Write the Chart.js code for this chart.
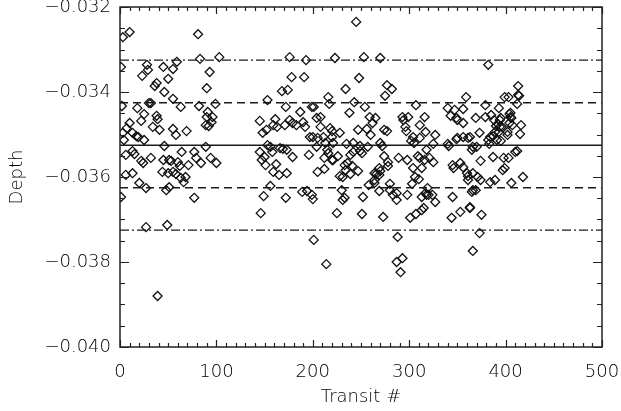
<!DOCTYPE html>
<html>
<head>
<meta charset="utf-8">
<title>Transit depths</title>
<script src="https://cdn.jsdelivr.net/npm/chart.js@4.4.1/dist/chart.umd.min.js"></script>
<style>
  html, body { margin: 0; padding: 0; background: #fff; }
  #wrap { width: 621px; height: 411px; }
</style>
</head>
<body>
<div id="wrap"><canvas id="depthChart" width="621" height="411"></canvas></div>
<script>
// transit number and fitted depth, one entry per transit
var transitNumbers = [
  1, 3, 10, 81, 83, 103, 93, 90, 28, 29,
  23, 45, 55, 59, 50, 38, 36, 46, 55, 30,
  32, 63, 18, 2, 82, 99, 91, 90, 96, 95,
  89, 92, 38, 39, 25, 22, 34, 10, 7, 3,
  41, 55, 58, 69, 13, 17, 19, 25, 4, 46,
  89, 6, 13, 15, 22, 32, 45, 53, 60, 64,
  62, 55, 50, 58, 63, 68, 66, 77, 79, 84,
  94, 100, 44, 6, 13, 20, 27, 48, 51, 1,
  77, 27, 49, 39, 71, 51, 24,
  176, 178, 168, 174, 153, 172, 145, 161, 148, 152,
  159, 163, 171, 176, 179, 183, 153, 156, 166, 169,
  145, 150, 158, 173, 179, 147, 151, 162, 159, 165,
  173, 156, 149, 172, 146, 193, 223, 191, 199, 201,
  187, 190, 192, 197, 204, 208, 208, 216, 217, 218,
  220, 228, 200, 205, 211, 220, 221, 213, 204, 196,
  215, 216, 221, 226, 205, 212, 212, 220, 234, 228,
  231, 230, 231, 189, 194, 199, 200, 225, 201, 214,
  233, 245, 253, 270, 248, 234, 277, 282, 275, 243,
  254, 238, 259, 265, 262, 247, 256, 260, 274, 277,
  235, 242, 249, 257, 270, 272, 239, 242, 251, 249,
  274, 278, 236, 241, 239, 247, 258, 264, 270, 269,
  252, 280, 283, 287, 298, 233, 287, 251, 273, 301,
  307, 313, 315, 288, 287, 293, 291, 293, 294, 299,
  296, 297, 304, 307, 316, 311, 317, 302, 305, 311,
  298, 304, 306, 310, 319, 317, 318, 309, 311, 313,
  316, 289, 303, 313, 320, 269, 280, 278, 266, 264,
  327, 325, 321, 325, 318, 327, 324, 340, 347, 356,
  349, 356, 343, 359, 340, 341, 349, 350, 356, 363,
  365, 366, 370, 345, 346, 353, 356, 360, 366, 371,
  374, 369, 373, 379, 379, 385, 388, 393, 395, 390,
  392, 394, 393, 387, 384, 382, 395, 402, 399, 403,
  405, 405, 407, 413, 413, 412, 416, 415, 402, 387,
  398, 403, 410, 412, 397, 399, 374, 389, 384, 406,
  418, 365, 366, 345, 363, 344, 353, 363, 375, 373,
  366, 382, 264, 269, 361, 361, 383, 391, 361, 404,
  406, 394, 396, 389, 404, 414, 350, 369
];
var depthValues = [
  -0.03341, -0.03271, -0.03259, -0.03264, -0.03322, -0.03318, -0.03353, -0.03391, -0.03336, -0.03348,
  -0.03362, -0.03341, -0.03346, -0.03329, -0.03369, -0.03379, -0.03386, -0.03400, -0.03416, -0.03426,
  -0.03426, -0.03435, -0.03438, -0.03433, -0.03433, -0.03428, -0.03447, -0.03459, -0.03459, -0.03471,
  -0.03478, -0.03480, -0.03456, -0.03464, -0.03452, -0.03468, -0.03482, -0.03473, -0.03485, -0.03496,
  -0.03489, -0.03487, -0.03501, -0.03492, -0.03496, -0.03504, -0.03506, -0.03513, -0.03513, -0.03527,
  -0.03529, -0.03548, -0.03539, -0.03546, -0.03562, -0.03555, -0.03560, -0.03562, -0.03565, -0.03541,
  -0.03574, -0.03588, -0.03591, -0.03593, -0.03602, -0.03600, -0.03612, -0.03541, -0.03555, -0.03567,
  -0.03555, -0.03567, -0.03588, -0.03595, -0.03591, -0.03614, -0.03626, -0.03631, -0.03624, -0.03647,
  -0.03649, -0.03718, -0.03713, -0.03880, -0.03572, -0.03560, -0.03567,
  -0.03318, -0.03365, -0.03398, -0.03395, -0.03419, -0.03435, -0.03468, -0.03464, -0.03496, -0.03489,
  -0.03478, -0.03482, -0.03478, -0.03466, -0.03473, -0.03478, -0.03525, -0.03529, -0.03532, -0.03534,
  -0.03541, -0.03553, -0.03541, -0.03536, -0.03553, -0.03560, -0.03572, -0.03570, -0.03588, -0.03595,
  -0.03591, -0.03621, -0.03645, -0.03649, -0.03685, -0.03325, -0.03320, -0.03365, -0.03435, -0.03435,
  -0.03447, -0.03471, -0.03482, -0.03506, -0.03461, -0.03459, -0.03482, -0.03412, -0.03428, -0.03485,
  -0.03492, -0.03496, -0.03506, -0.03508, -0.03506, -0.03506, -0.03520, -0.03520, -0.03529, -0.03548,
  -0.03536, -0.03544, -0.03560, -0.03551, -0.03588, -0.03581, -0.03555, -0.03560, -0.03584, -0.03598,
  -0.03600, -0.03631, -0.03654, -0.03635, -0.03633, -0.03642, -0.03652, -0.03685, -0.03748, -0.03805,
  -0.03572, -0.03235, -0.03318, -0.03320, -0.03367, -0.03393, -0.03384, -0.03393, -0.03409, -0.03424,
  -0.03435, -0.03449, -0.03459, -0.03461, -0.03473, -0.03489, -0.03487, -0.03501, -0.03489, -0.03492,
  -0.03522, -0.03520, -0.03527, -0.03529, -0.03520, -0.03527, -0.03548, -0.03541, -0.03544, -0.03539,
  -0.03551, -0.03574, -0.03567, -0.03574, -0.03593, -0.03586, -0.03619, -0.03607, -0.03586, -0.03595,
  -0.03647, -0.03631, -0.03642, -0.03638, -0.03642, -0.03649, -0.03654, -0.03687, -0.03694, -0.03696,
  -0.03687, -0.03678, -0.03673, -0.03741, -0.03800, -0.03791, -0.03824, -0.03459, -0.03466, -0.03459,
  -0.03482, -0.03492, -0.03506, -0.03431, -0.03459, -0.03478, -0.03494, -0.03515, -0.03520, -0.03508,
  -0.03560, -0.03579, -0.03600, -0.03605, -0.03626, -0.03638, -0.03642, -0.03551, -0.03555, -0.03579,
  -0.03560, -0.03555, -0.03616, -0.03647, -0.03642, -0.03633, -0.03616, -0.03565, -0.03593, -0.03614,
  -0.03501, -0.03522, -0.03555, -0.03565, -0.03536, -0.03659, -0.03642, -0.03438, -0.03442, -0.03440,
  -0.03461, -0.03473, -0.03456, -0.03412, -0.03522, -0.03527, -0.03511, -0.03508, -0.03506, -0.03506,
  -0.03536, -0.03529, -0.03529, -0.03572, -0.03579, -0.03567, -0.03577, -0.03591, -0.03591, -0.03600,
  -0.03562, -0.03461, -0.03496, -0.03431, -0.03459, -0.03454, -0.03466, -0.03438, -0.03461, -0.03480,
  -0.03475, -0.03482, -0.03494, -0.03504, -0.03506, -0.03513, -0.03515, -0.03494, -0.03412, -0.03412,
  -0.03449, -0.03459, -0.03478, -0.03386, -0.03407, -0.03428, -0.03478, -0.03499, -0.03501, -0.03553,
  -0.03555, -0.03555, -0.03541, -0.03539, -0.03584, -0.03579, -0.03607, -0.03607, -0.03612, -0.03614,
  -0.03600, -0.03635, -0.03631, -0.03647, -0.03671, -0.03696, -0.03682, -0.03673, -0.03689, -0.03732,
  -0.03774, -0.03336, -0.03591, -0.03579, -0.03598, -0.03607, -0.03522, -0.03513, -0.03508, -0.03452,
  -0.03461, -0.03466, -0.03482, -0.03494, -0.03473, -0.03409, -0.03466, -0.03631
];

// mean depth and the 1 and 2 sigma levels around it
var meanDepth = -0.03525;
var oneSigmaLevels = [-0.03425, -0.03625];
var twoSigmaLevels = [-0.03325, -0.03725];

var xRange = [0, 500];
var yRange = [-0.040, -0.032];

var points = transitNumbers.map(function (t, i) { return { x: t, y: depthValues[i] }; });

function levelLine(level, dash, width) {
  return {
    type: 'line',
    data: [{ x: xRange[0], y: level }, { x: xRange[1], y: level }],
    borderColor: '#1a1a1a',
    borderWidth: width,
    borderDash: dash,
    pointRadius: 0,
    fill: false
  };
}

var datasets = [
  {
    type: 'scatter',
    data: points,
    pointStyle: 'rectRot',
    pointRadius: 4.5,
    borderColor: '#111',
    borderWidth: 1.3,
    backgroundColor: 'rgba(0,0,0,0)'
  },
  levelLine(meanDepth, [], 1.5)
];
oneSigmaLevels.forEach(function (l) { datasets.push(levelLine(l, [8, 5], 1.5)); });
twoSigmaLevels.forEach(function (l) { datasets.push(levelLine(l, [9, 3, 2, 3], 1.3)); });

var labelFont = { family: "'DejaVu Sans', sans-serif", size: 18, weight: '200' };
var labelColor = '#000';

// box round the plot with inward ticks on all four sides
var frameTicks = {
  id: 'frameTicks',
  afterDatasetsDraw: function (chart) {
    var a = chart.chartArea, xs = chart.scales.x, ys = chart.scales.y, ctx = chart.ctx;
    ctx.save();
    ctx.strokeStyle = '#222';
    ctx.lineWidth = 1.5;
    ctx.strokeRect(a.left, a.top, a.right - a.left, a.bottom - a.top);
    ctx.lineWidth = 1.2;
    ctx.beginPath();
    for (var v = xRange[0]; v <= xRange[1]; v += 10) {
      var px = Math.round(xs.getPixelForValue(v)) + 0.5;
      var len = v % 100 === 0 ? 7 : 4;
      ctx.moveTo(px, a.bottom); ctx.lineTo(px, a.bottom - len);
      ctx.moveTo(px, a.top); ctx.lineTo(px, a.top + len);
    }
    for (var i = 0; i <= 16; i++) {
      var py = Math.round(ys.getPixelForValue(yRange[0] + i * 0.0005)) + 0.5;
      var l2 = i % 4 === 0 ? 9 : 5;
      ctx.moveTo(a.left, py); ctx.lineTo(a.left + l2, py);
      ctx.moveTo(a.right, py); ctx.lineTo(a.right - l2, py);
    }
    ctx.stroke();
    ctx.restore();
  }
};

new Chart(document.getElementById('depthChart'), {
  data: { datasets: datasets },
  plugins: [frameTicks],
  options: {
    responsive: false,
    animation: false,
    layout: { padding: { top: 7, right: 19, left: 0, bottom: 0 } },
    plugins: { legend: { display: false }, tooltip: { enabled: false } },
    scales: {
      x: {
        type: 'linear',
        position: 'bottom',
        min: xRange[0],
        max: xRange[1],
        grid: { display: false, drawTicks: false },
        border: { display: false },
        ticks: { stepSize: 100, padding: 15, color: labelColor, font: labelFont, maxRotation: 0 },
        title: { display: true, text: 'Transit #', color: labelColor, font: labelFont, padding: { top: 0, bottom: 3 } },
        afterFit: function (s) { s.height = 64; s.paddingLeft = 0; s.paddingRight = 0; }
      },
      y: {
        type: 'linear',
        min: yRange[0],
        max: yRange[1],
        grid: { display: false, drawTicks: false },
        border: { display: false },
        ticks: {
          stepSize: 0.002,
          padding: 9,
          color: labelColor,
          font: labelFont,
          callback: function (v) { return '\u2212' + Math.abs(v).toFixed(3); }
        },
        title: { display: true, text: 'Depth', color: labelColor, font: labelFont, padding: { top: 7, bottom: 0 } },
        afterFit: function (s) { s.width = 120; s.paddingTop = 0; s.paddingBottom = 0; }
      }
    }
  }
});
</script>
</body>
</html>
